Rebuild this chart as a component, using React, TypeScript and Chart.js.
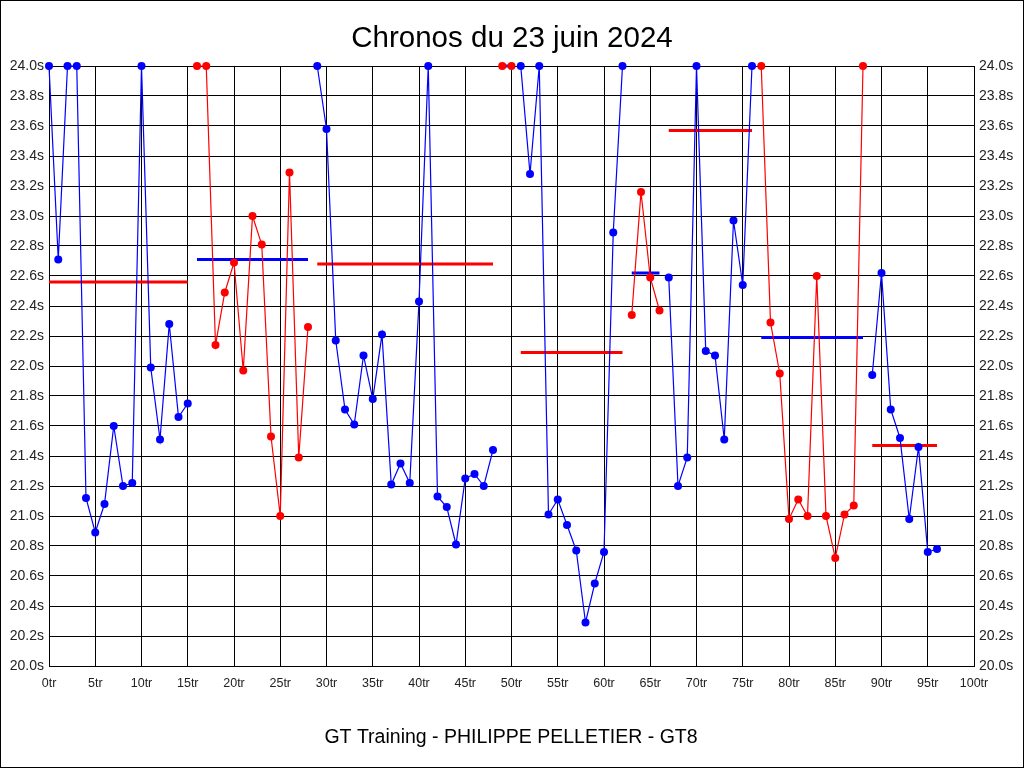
import Chart from "chart.js/auto";
import { useEffect, useRef } from "react";

// lap times in seconds, one per lap (0tr .. 96tr), clipped at 24.0s
const lapTimes = [
  24.0, 22.71, 24.0, 24.0, 21.12, 20.89, 21.08, 21.6, 21.2, 21.22,
  24.0, 21.99, 21.51, 22.28, 21.66, 21.75, 24.0, 24.0, 22.14, 22.49,
  22.69, 21.97, 23.0, 22.81, 21.53, 21.0, 23.29, 21.39, 22.26, 24.0,
  23.58, 22.17, 21.71, 21.61, 22.07, 21.78, 22.21, 21.21, 21.35, 21.22,
  22.43, 24.0, 21.13, 21.06, 20.81, 21.25, 21.28, 21.2, 21.44, 24.0,
  24.0, 24.0, 23.28, 24.0, 21.01, 21.11, 20.94, 20.77, 20.29, 20.55,
  20.76, 22.89, 24.0, 22.34, 23.16, 22.59, 22.37, 22.59, 21.2, 21.39,
  24.0, 22.1, 22.07, 21.51, 22.97, 22.54, 24.0, 24.0, 22.29, 21.95,
  20.98, 21.11, 21.0, 22.6, 21.0, 20.72, 21.01, 21.07, 24.0, 21.94,
  22.62, 21.71, 21.52, 20.98, 21.46, 20.76, 20.78,
];

// stints: first and last lap, plus the average line drawn over each
const stintStarts = [0, 16, 29, 49, 51, 63, 67, 77, 89];
const stintEnds = [15, 28, 48, 50, 62, 66, 76, 88, 96];
const stintAverages = [22.56, 22.71, 22.68, 24.0, 22.09, 22.62, 23.57, 22.19, 21.47];

const title = "Chronos du 23 juin 2024";
const footer = "GT Training - PHILIPPE PELLETIER - GT8";

const BLUE = "#0000ff";
const RED = "#ff0000";
const FONT = "'Liberation Sans', Arial, sans-serif";

export default function App() {
  const ref = useRef<HTMLCanvasElement>(null);

  useEffect(() => {
    if (!ref.current) return;

    const lineSets: any[] = [];
    const avgSets: any[] = [];
    stintStarts.forEach((start, i) => {
      const end = stintEnds[i];
      const color = i % 2 === 0 ? BLUE : RED;
      const other = i % 2 === 0 ? RED : BLUE;
      const pts = [];
      for (let lap = start; lap <= end; lap++) pts.push({ x: lap, y: lapTimes[lap] });
      lineSets.push({
        data: pts,
        borderColor: color,
        backgroundColor: color,
        borderWidth: 1.2,
        pointRadius: 4,
        pointBorderWidth: 0,
        pointBackgroundColor: color,
        tension: 0,
        clip: false,
        yAxisID: "y",
      });
      avgSets.push({
        data: [
          { x: start, y: stintAverages[i] },
          { x: end, y: stintAverages[i] },
        ],
        borderColor: other,
        borderWidth: 3,
        pointRadius: 0,
        borderCapStyle: "butt",
        clip: false,
        yAxisID: "y",
      });
    });

    const frame = {
      id: "frame",
      afterDraw(chart: any) {
        const ctx = chart.ctx;
        ctx.save();
        ctx.strokeStyle = "#000";
        ctx.lineWidth = 1;
        ctx.strokeRect(0.5, 0.5, chart.width - 1, chart.height - 1);
        ctx.fillStyle = "#000";
        ctx.textAlign = "center";
        ctx.textBaseline = "alphabetic";
        ctx.font = `29.5px ${FONT}`;
        ctx.fillText(title, 512, 46.5);
        ctx.font = `19.5px ${FONT}`;
        ctx.fillText(footer, 511, 743);
        ctx.restore();
      },
    };

    const yTicks = {
      stepSize: 0.2,
      padding: 5,
      color: "#222",
      font: { family: FONT, size: 14 },
      callback: (v: any) => Number(v).toFixed(1) + "s",
    };

    const chart = new Chart(ref.current, {
      type: "line",
      data: { datasets: [...lineSets, ...avgSets] },
      plugins: [frame],
      options: {
        responsive: false,
        animation: false,
        devicePixelRatio: 1,
        layout: { padding: { top: 66, left: 0, right: 0, bottom: 0 } },
        plugins: {
          legend: { display: false },
          tooltip: { enabled: false },
          title: { display: false },
        },
        scales: {
          x: {
            type: "linear",
            min: 0,
            max: 100,
            afterFit: (s: any) => {
              s.height = 102;
            },
            grid: { color: "#000", lineWidth: 1, drawTicks: false },
            border: { color: "#000" },
            ticks: {
              stepSize: 5,
              padding: 10,
              maxRotation: 0,
              autoSkip: false,
              color: "#222",
              font: { family: FONT, size: 12.5 },
              callback: (v: any) => v + "tr",
            },
          },
          y: {
            type: "linear",
            position: "left",
            min: 20,
            max: 24,
            afterFit: (s: any) => {
              s.width = 49;
            },
            grid: { color: "#000", lineWidth: 1, drawTicks: false },
            border: { color: "#000" },
            ticks: yTicks,
          },
          y2: {
            type: "linear",
            position: "right",
            min: 20,
            max: 24,
            afterFit: (s: any) => {
              s.width = 50;
            },
            grid: { display: false, drawTicks: false },
            border: { color: "#000" },
            ticks: yTicks,
          },
        },
      },
    });

    return () => {
      chart.destroy();
    };
  }, []);

  return (
    <div style={{ position: "absolute", left: 0, top: 0, width: 1024, height: 768, background: "#fff" }}>
      <canvas ref={ref} width={1024} height={768}></canvas>
    </div>
  );
}
